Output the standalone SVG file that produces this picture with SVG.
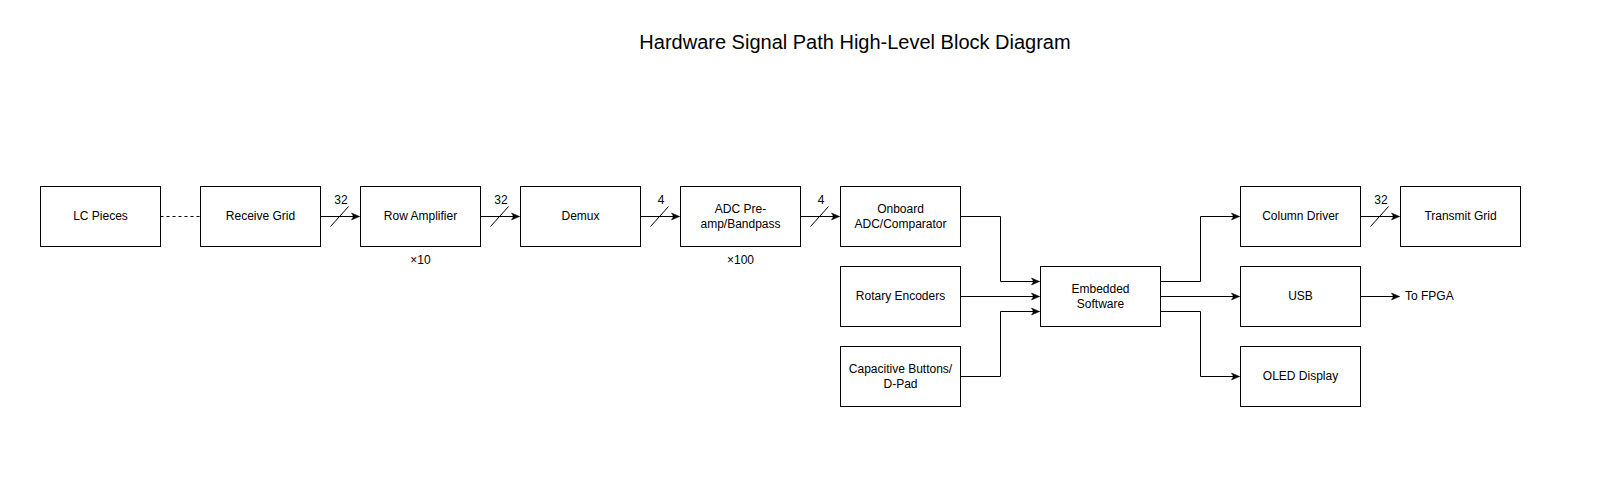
<svg xmlns="http://www.w3.org/2000/svg" width="1610" height="483" viewBox="0 0 1610 483">
<defs>
<style>
.box{fill:#fff;stroke:#000;stroke-width:1}
.t{font-family:"Liberation Sans",Arial,sans-serif;font-size:12px;fill:#000;text-anchor:middle}
.s{font-family:"Liberation Sans",Arial,sans-serif;font-size:12px;fill:#000;text-anchor:start}
.c{fill:none;stroke:#000;stroke-width:1}
.title{font-family:"Liberation Sans",Arial,sans-serif;font-size:20px;fill:#000;text-anchor:middle}
</style>
<marker id="arr" markerUnits="userSpaceOnUse" markerWidth="9" markerHeight="8" refX="8" refY="3.5" orient="auto" overflow="visible">
<path d="M0,0 L8,3.5 L0,7 L2,3.5 z" fill="#000" stroke="#000" stroke-width="0.5"/>
</marker>
</defs>
<rect width="1610" height="483" fill="#fff"/>
<text class="title" x="855" y="49">Hardware Signal Path High-Level Block Diagram</text>

<g id="connectors">
<path class="c" d="M160.5,216.5 H200.5" stroke-dasharray="3 3"/>
<path class="c" d="M320.5,216.5 H359.5" marker-end="url(#arr)"/>
<path class="c" d="M480.5,216.5 H519.5" marker-end="url(#arr)"/>
<path class="c" d="M640.5,216.5 H679.5" marker-end="url(#arr)"/>
<path class="c" d="M800.5,216.5 H839.5" marker-end="url(#arr)"/>
<path class="c" d="M960.5,216.5 H1000.5 V281.5 H1039.5" marker-end="url(#arr)"/>
<path class="c" d="M960.5,296.5 H1039.5" marker-end="url(#arr)"/>
<path class="c" d="M960.5,376.5 H1000.5 V311.5 H1039.5" marker-end="url(#arr)"/>
<path class="c" d="M1160.5,281.5 H1200.5 V216.5 H1239.5" marker-end="url(#arr)"/>
<path class="c" d="M1160.5,296.5 H1239.5" marker-end="url(#arr)"/>
<path class="c" d="M1160.5,311.5 H1200.5 V376.5 H1239.5" marker-end="url(#arr)"/>
<path class="c" d="M1360.5,216.5 H1399.5" marker-end="url(#arr)"/>
<path class="c" d="M1360.5,296.5 H1399.5" marker-end="url(#arr)"/>
<path class="c" d="M330.5,226.5 L348.5,206.5"/>
<path class="c" d="M490.5,226.5 L508.5,206.5"/>
<path class="c" d="M650.5,226.5 L668.5,206.5"/>
<path class="c" d="M810.5,226.5 L828.5,206.5"/>
<path class="c" d="M1370.5,226.5 L1388.5,206.5"/>
<text class="t" x="341" y="204">32</text>
<text class="t" x="501" y="204">32</text>
<text class="t" x="661" y="204">4</text>
<text class="t" x="821" y="204">4</text>
<text class="t" x="1381" y="204">32</text>
<text class="s" x="1405" y="300">To FPGA</text>
</g>

<g id="lc"><rect class="box" x="40.5" y="186.5" width="120" height="60"/><text class="t" x="100.5" y="220">LC Pieces</text></g>
<g id="rx"><rect class="box" x="200.5" y="186.5" width="120" height="60"/><text class="t" x="260.5" y="220">Receive Grid</text></g>
<g id="amp"><rect class="box" x="360.5" y="186.5" width="120" height="60"/><text class="t" x="420.5" y="220">Row Amplifier</text><text class="t" x="420.5" y="264">×10</text></g>
<g id="demux"><rect class="box" x="520.5" y="186.5" width="120" height="60"/><text class="t" x="580.5" y="220">Demux</text></g>
<g id="pre"><rect class="box" x="680.5" y="186.5" width="120" height="60"/><text class="t" x="740.5" y="213">ADC Pre-</text><text class="t" x="740.5" y="228">amp/Bandpass</text><text class="t" x="740.5" y="264">×100</text></g>
<g id="adc"><rect class="box" x="840.5" y="186.5" width="120" height="60"/><text class="t" x="900.5" y="213">Onboard</text><text class="t" x="900.5" y="228">ADC/Comparator</text></g>
<g id="rot"><rect class="box" x="840.5" y="266.5" width="120" height="60"/><text class="t" x="900.5" y="300">Rotary Encoders</text></g>
<g id="cap"><rect class="box" x="840.5" y="346.5" width="120" height="60"/><text class="t" x="900.5" y="373">Capacitive Buttons/</text><text class="t" x="900.5" y="388">D-Pad</text></g>
<g id="emb"><rect class="box" x="1040.5" y="266.5" width="120" height="60"/><text class="t" x="1100.5" y="293">Embedded</text><text class="t" x="1100.5" y="308">Software</text></g>
<g id="col"><rect class="box" x="1240.5" y="186.5" width="120" height="60"/><text class="t" x="1300.5" y="220">Column Driver</text></g>
<g id="tx"><rect class="box" x="1400.5" y="186.5" width="120" height="60"/><text class="t" x="1460.5" y="220">Transmit Grid</text></g>
<g id="usb"><rect class="box" x="1240.5" y="266.5" width="120" height="60"/><text class="t" x="1300.5" y="300">USB</text></g>
<g id="oled"><rect class="box" x="1240.5" y="346.5" width="120" height="60"/><text class="t" x="1300.5" y="380">OLED Display</text></g>
</svg>
